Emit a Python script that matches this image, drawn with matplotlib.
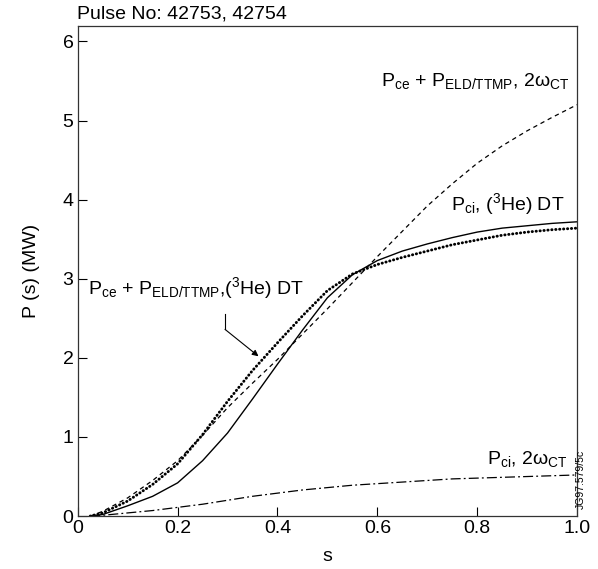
import matplotlib
matplotlib.use("Agg")
import matplotlib.pyplot as plt

plt.rcParams['font.family'] = ['Liberation Sans', 'DejaVu Sans']
plt.rcParams['mathtext.fontset'] = 'custom'
plt.rcParams['mathtext.rm'] = 'Liberation Sans'
plt.rcParams['mathtext.it'] = 'Liberation Sans:italic'

# radial coordinate s
s = [0.025, 0.05, 0.1, 0.15, 0.2, 0.25, 0.3, 0.35, 0.4, 0.45, 0.5,
     0.55, 0.6, 0.65, 0.7, 0.75, 0.8, 0.85, 0.9, 0.95, 1.0]
# P_ce + P_ELD/TTMP, 2w_CT (dashed)
p_ce_2w = [0.0, 0.06, 0.23, 0.45, 0.70, 1.02, 1.37, 1.68, 1.98, 2.30, 2.62,
           2.95, 3.28, 3.60, 3.92, 4.20, 4.46, 4.68, 4.87, 5.04, 5.20]
# P_ci, (3He) DT (solid)
p_ci_he = [0.0, 0.02, 0.13, 0.25, 0.42, 0.70, 1.05, 1.48, 1.92, 2.35, 2.76,
           3.05, 3.23, 3.35, 3.44, 3.52, 3.59, 3.64, 3.67, 3.70, 3.72]
# P_ce + P_ELD/TTMP, (3He) DT (dotted)
p_ce_he = [0.0, 0.04, 0.19, 0.40, 0.66, 1.03, 1.45, 1.84, 2.19, 2.53, 2.85,
           3.06, 3.18, 3.27, 3.35, 3.43, 3.49, 3.55, 3.59, 3.62, 3.64]
# P_ci, 2w_CT (dash-dot)
p_ci_2w = [0.0, 0.01, 0.04, 0.07, 0.11, 0.15, 0.20, 0.25, 0.29, 0.33, 0.36,
           0.39, 0.41, 0.43, 0.45, 0.47, 0.48, 0.49, 0.50, 0.51, 0.52]

xticks = [0, 0.2, 0.4, 0.6, 0.8, 1.0]
xticklabels = ['0', '0.2', '0.4', '0.6', '0.8', '1.0']
yticks = [0, 1, 2, 3, 4, 5, 6]

fig = plt.figure(figsize=(5.98, 5.69), dpi=100)
ax = fig.add_axes([0.130, 0.093, 0.835, 0.862])

ax.plot(s, p_ce_2w, color='black', lw=0.9, linestyle=(0, (3.5, 3)))
ax.plot(s, p_ci_he, color='black', lw=1.0, linestyle='-')
ax.plot(s, p_ce_he, color='black', lw=2.1, linestyle=(0, (0.1, 1.25)),
        dash_capstyle='round')
ax.plot(s, p_ci_2w, color='black', lw=0.9, linestyle=(0, (8, 2.5, 1.5, 2.5)))

ax.set_xlim(0, 1.0)
ax.set_ylim(0, 6.2)
ax.set_xticks(xticks)
ax.set_xticklabels(xticklabels)
ax.set_yticks(yticks)
ax.tick_params(direction='in', length=6.5, width=0.8, labelsize=14, pad=3)
for sp in ax.spines.values():
    sp.set_linewidth(0.9)
    sp.set_color('#333333')

ax.set_xlabel('s', fontsize=14, labelpad=8)
ax.set_ylabel('P (s) (MW)', fontsize=14, labelpad=16)

fig.text(0.129, 0.968, 'Pulse No: 42753, 42754', fontsize=14, va='baseline')

ax.text(0.985, 5.44, r'P$_{\mathrm{ce}}$ + P$_{\mathrm{ELD/TTMP}}$, 2ω$_{\mathrm{CT}}$',
        fontsize=14, ha='right', va='baseline')
ax.text(0.975, 3.87, r'P$_{\mathrm{ci}}$, ($^{3}$He) DT',
        fontsize=14, ha='right', va='baseline')
ax.text(0.02, 2.80, r'P$_{\mathrm{ce}}$ + P$_{\mathrm{ELD/TTMP}}$,($^{3}$He) DT',
        fontsize=14, ha='left', va='baseline')
ax.text(0.98, 0.66, r'P$_{\mathrm{ci}}$, 2ω$_{\mathrm{CT}}$',
        fontsize=14, ha='right', va='baseline')

# arrow pointing at the dotted curve
ax.plot([0.295, 0.295], [2.56, 2.36], color='black', lw=0.8)
ax.annotate('', xy=(0.362, 2.02), xytext=(0.295, 2.36),
            arrowprops=dict(arrowstyle='-|>', color='black', lw=0.8,
                            mutation_scale=9, shrinkA=0, shrinkB=0))

fig.text(0.963, 0.105, 'JG97.579/5c', fontsize=7.5, rotation=90,
         ha='left', va='bottom')

fig.savefig('out.png', dpi=100)
